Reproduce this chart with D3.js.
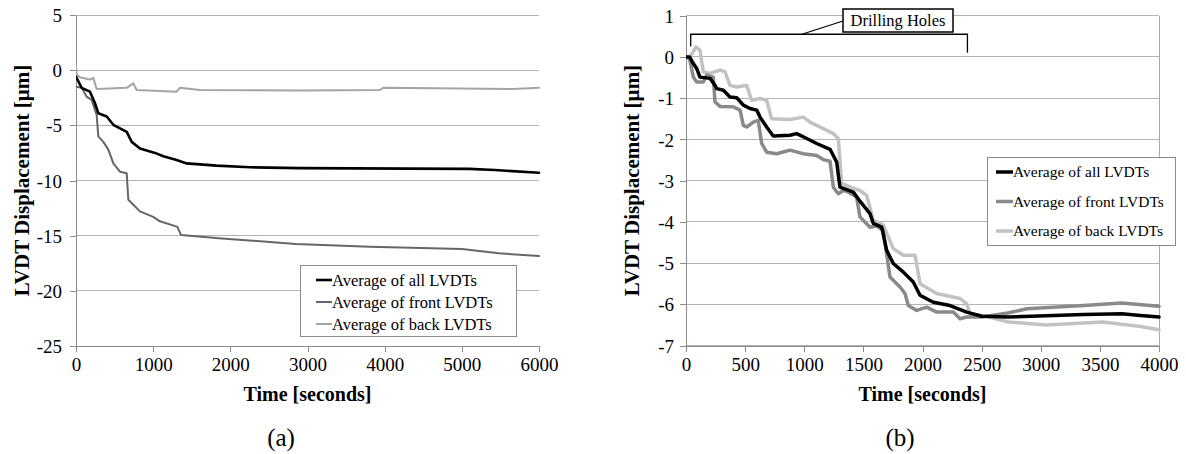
<!DOCTYPE html>
<html>
<head>
<meta charset="utf-8">
<script src="https://cdn.jsdelivr.net/npm/d3@7"></script>
<style>
  html, body { margin: 0; padding: 0; background: #fff; }
  svg { display: block; }
  svg text { font-family: "Liberation Serif", "Times New Roman", Times, "DejaVu Serif", serif !important; fill: #000; }
</style>
</head>
<body>
<svg id="chart" width="1186" height="454"></svg>
<script>
// ---------------- DATA ----------------
// Chart (a): time [s] and LVDT displacement [µm]
const timeA_all   = [0, 74, 181, 246, 289, 398, 484, 657, 722, 829, 1024, 1131, 1304, 1434, 1823, 2255, 2903, 3600, 4300, 5100, 5425, 6000];
const valueA_all  = [-0.6, -1.6, -1.95, -3.0, -3.9, -4.2, -4.95, -5.6, -6.5, -7.1, -7.5, -7.8, -8.15, -8.45, -8.65, -8.8, -8.88, -8.9, -8.92, -8.95, -9.05, -9.3];
const timeA_front  = [0, 74, 138, 203, 268, 289, 354, 419, 484, 570, 657, 678, 743, 829, 1001, 1088, 1314, 1361, 1888, 2846, 3804, 5002, 5481, 6000];
const valueA_front = [-1.5, -1.6, -2.4, -2.7, -4.05, -6.0, -6.5, -7.2, -8.45, -9.2, -9.35, -11.75, -12.2, -12.8, -13.3, -13.7, -14.2, -14.95, -15.25, -15.75, -16.0, -16.2, -16.6, -16.85];
const timeA_back  = [0, 10, 48, 181, 224, 268, 657, 743, 786, 1304, 1347, 1607, 2903, 3939, 3982, 5667, 6000];
const valueA_back = [0.35, -0.4, -0.65, -0.85, -0.7, -1.7, -1.6, -1.2, -1.8, -1.95, -1.6, -1.8, -1.85, -1.8, -1.6, -1.7, -1.6];

// Chart (b)
const timeB_all  = [0, 30, 62, 90, 118, 203, 245, 260, 316, 372, 429, 485, 541, 598, 626, 682, 738, 879, 936, 1021, 1105, 1218, 1274, 1302, 1330, 1415, 1471, 1556, 1584, 1655, 1697, 1753, 1838, 1922, 1979, 2091, 2233, 2374, 2500, 2722, 3043, 3364, 3685, 3845, 4000];
const valueB_all = [0, 0, -0.16, -0.28, -0.49, -0.52, -0.69, -0.77, -0.81, -0.97, -0.99, -1.17, -1.25, -1.29, -1.46, -1.70, -1.92, -1.90, -1.86, -1.98, -2.10, -2.24, -2.55, -3.16, -3.19, -3.28, -3.5, -3.8, -4.04, -4.13, -4.69, -5.01, -5.22, -5.46, -5.78, -5.95, -6.03, -6.19, -6.29, -6.31, -6.28, -6.25, -6.23, -6.27, -6.31];
const timeB_front  = [0, 30, 62, 90, 146, 175, 231, 245, 288, 400, 457, 485, 513, 569, 611, 640, 682, 767, 879, 992, 1105, 1161, 1218, 1246, 1288, 1330, 1358, 1443, 1471, 1556, 1612, 1668, 1725, 1810, 1852, 1880, 1951, 2035, 2120, 2261, 2317, 2374, 2500, 2722, 2883, 3364, 3685, 4000];
const valueB_front = [0, -0.04, -0.49, -0.61, -0.61, -0.44, -0.49, -1.09, -1.20, -1.21, -1.29, -1.66, -1.70, -1.58, -1.54, -2.10, -2.31, -2.35, -2.26, -2.35, -2.39, -2.49, -2.53, -3.16, -3.32, -3.24, -3.26, -3.40, -3.88, -4.13, -4.10, -4.21, -5.34, -5.58, -5.74, -6.03, -6.15, -6.07, -6.19, -6.19, -6.35, -6.31, -6.31, -6.21, -6.11, -6.03, -5.97, -6.05];
const timeB_back  = [0, 34, 85, 118, 146, 203, 288, 330, 372, 429, 513, 555, 626, 682, 724, 879, 992, 1049, 1161, 1246, 1288, 1316, 1415, 1471, 1528, 1584, 1668, 1753, 1838, 1937, 1979, 2120, 2317, 2374, 2402, 2543, 2722, 3043, 3524, 3845, 4000];
const valueB_back = [0, 0, 0.24, 0.16, -0.36, -0.40, -0.32, -0.36, -0.69, -0.73, -0.69, -1.05, -1.01, -1.05, -1.50, -1.52, -1.46, -1.58, -1.74, -1.86, -1.98, -3.07, -3.19, -3.24, -3.36, -3.96, -4.08, -4.65, -4.81, -4.81, -5.50, -5.74, -5.86, -5.99, -6.23, -6.29, -6.43, -6.50, -6.43, -6.54, -6.62];

const seriesNames = ["Average of all LVDTs", "Average of front LVDTs", "Average of back LVDTs"];
const xTicksA = [0, 1000, 2000, 3000, 4000, 5000, 6000];
const yTicksA = [5, 0, -5, -10, -15, -20, -25];
const xTicksB = [0, 500, 1000, 1500, 2000, 2500, 3000, 3500, 4000];
const yTicksB = [1, 0, -1, -2, -3, -4, -5, -6, -7];
const drillRange = [40, 2380];
const drillLabel = "Drilling Holes";
const xTitle = "Time [seconds]";
const yTitle = "LVDT Displacement [µm]";

// ---------------- DRAW ----------------
const FONT = '"Liberation Serif", "Times New Roman", Times, "DejaVu Serif", serif';
const svg = d3.select("#chart");
const zip = (t, v) => t.map((d, i) => ({t: d, v: v[i]}));

function drawPanel(cfg) {
  const x = d3.scaleLinear().domain(cfg.xDomain).range([cfg.left, cfg.right]);
  const y = d3.scaleLinear().domain(cfg.yDomain).range([cfg.bottom, cfg.top]);
  const g = svg.append("g").attr("font-family", FONT);

  g.append("g").selectAll("line").data(cfg.yTicks).join("line")
    .attr("x1", cfg.left).attr("x2", cfg.right)
    .attr("y1", d => y(d)).attr("y2", d => y(d))
    .attr("stroke", "#b3b3b3").attr("stroke-width", 1).attr("shape-rendering", "crispEdges");

  if (cfg.rightBorder) {
    g.append("line").attr("x1", cfg.right).attr("x2", cfg.right)
      .attr("y1", cfg.top).attr("y2", cfg.bottom)
      .attr("stroke", "#a8a8a8").attr("shape-rendering", "crispEdges");
  }

  const xAxis = g.append("g").attr("transform", `translate(0,${cfg.bottom})`)
    .call(d3.axisBottom(x).tickValues(cfg.xTicks).tickSize(6).tickSizeOuter(0).tickFormat(d3.format("d")));
  const yAxis = g.append("g").attr("transform", `translate(${cfg.left},0)`)
    .call(d3.axisLeft(y).tickValues(cfg.yTicks).tickSize(6).tickSizeOuter(0).tickFormat(d3.format("d")));
  [xAxis, yAxis].forEach(a => {
    a.attr("font-family", FONT).attr("font-size", cfg.tickFont);
    a.select(".domain").attr("stroke", "#8c8c8c").attr("shape-rendering", "crispEdges");
    a.selectAll(".tick line").attr("stroke", "#8c8c8c").attr("shape-rendering", "crispEdges");
    a.selectAll(".tick text").style("font-family", FONT).attr("font-size", cfg.tickFont).attr("fill", "#000");
  });
  xAxis.selectAll(".tick text").attr("y", 12).attr("dy", "0.71em");
  yAxis.selectAll(".tick text").attr("x", -cfg.yLabelGap).attr("dy", "0.35em")
    .text(d => d < 0 ? "-" + Math.abs(d) : d);

  const line = d3.line().x(d => x(d.t)).y(d => y(d.v)).curve(d3.curveLinear);
  const clipId = "clip" + cfg.id;
  svg.append("clipPath").attr("id", clipId).append("rect")
    .attr("x", cfg.left).attr("y", cfg.top - 10).attr("width", cfg.right - cfg.left + 2).attr("height", cfg.bottom - cfg.top + 10);
  const lg = g.append("g").attr("clip-path", `url(#${clipId})`);
  [2, 1, 0].forEach(i => {
    const s = cfg.series[i];
    lg.append("path").datum(s.data).attr("d", line)
      .attr("fill", "none").attr("stroke", s.color).attr("stroke-width", s.width)
      .attr("stroke-linejoin", "round").attr("stroke-linecap", "round");
  });

  g.append("text").attr("x", (cfg.left + cfg.right) / 2).attr("y", cfg.xTitleY)
    .attr("text-anchor", "middle").attr("font-weight", "bold").attr("font-size", cfg.titleFont)
    .text(xTitle);
  g.append("text").attr("transform", `translate(${cfg.yTitleX},${(cfg.top + cfg.bottom) / 2}) rotate(-90)`)
    .attr("text-anchor", "middle").attr("dy", "0.35em").attr("font-weight", "bold").attr("font-size", cfg.yTitleFont)
    .text(yTitle);
  g.append("text").attr("x", cfg.panelX).attr("y", 446)
    .attr("text-anchor", "middle").attr("font-size", 25).text(cfg.panelLabel);

  const L = cfg.legend;
  const lgd = g.append("g");
  lgd.append("rect").attr("x", L.x).attr("y", L.y).attr("width", L.w).attr("height", L.h)
    .attr("fill", "#fff").attr("stroke", "#8c8c8c").attr("stroke-width", 1).attr("shape-rendering", "crispEdges");
  cfg.series.forEach((s, i) => {
    const cy = L.y + L.first + i * L.step;
    lgd.append("line").attr("x1", L.x + L.lx1).attr("x2", L.x + L.lx2).attr("y1", cy).attr("y2", cy)
      .attr("stroke", s.color).attr("stroke-width", s.width);
    lgd.append("text").attr("x", L.x + L.lx2).attr("y", cy).attr("dy", "0.35em")
      .attr("font-size", L.font).text(seriesNames[i]);
  });
  return {x, y, g};
}

drawPanel({
  id: "A", left: 76, right: 539, top: 15, bottom: 346,
  xDomain: [0, 6000], yDomain: [-25, 5], xTicks: xTicksA, yTicks: yTicksA,
  tickFont: 19, titleFont: 20, yTitleFont: 21, yLabelGap: 14,
  xTitleY: 401, yTitleX: 22, panelX: 281, panelLabel: "(a)", rightBorder: false,
  series: [
    {data: zip(timeA_all, valueA_all), color: "#000", width: 2.6},
    {data: zip(timeA_front, valueA_front), color: "#666", width: 2},
    {data: zip(timeA_back, valueA_back), color: "#a4a4a4", width: 2}
  ],
  legend: {x: 300, y: 265, w: 216, h: 71, first: 15, step: 22, lx1: 16, lx2: 32, font: 16.5}
});

const pB = drawPanel({
  id: "B", left: 686, right: 1159, top: 15.7, bottom: 345.5,
  xDomain: [0, 4000], yDomain: [-7, 1], xTicks: xTicksB, yTicks: yTicksB,
  tickFont: 19, titleFont: 20, yTitleFont: 21, yLabelGap: 12,
  xTitleY: 401, yTitleX: 632, panelX: 900, panelLabel: "(b)", rightBorder: true,
  series: [
    {data: zip(timeB_all, valueB_all), color: "#000", width: 3.5},
    {data: zip(timeB_front, valueB_front), color: "#8a8a8a", width: 3.5},
    {data: zip(timeB_back, valueB_back), color: "#c2c2c2", width: 3.5}
  ],
  legend: {x: 987, y: 157, w: 188, h: 88, first: 15, step: 29.5, lx1: 9, lx2: 26, font: 15.5}
});

{
  const x = pB.x, y = pB.y, g = pB.g;
  const xl = x(drillRange[0]), xr = x(drillRange[1]);
  const yb = y(0.55);
  const c = g.append("g").attr("stroke", "#000").attr("stroke-width", 1.3).attr("fill", "none");
  c.append("path").attr("d", `M${xl},${y(0.25)}V${yb}H${xr}V${y(0.1)}`);
  const bx = 843, by = 9, bw = 110, bh = 23;
  c.append("line").attr("x1", bx).attr("y1", by + 12).attr("x2", x(980)).attr("y2", yb);
  g.append("rect").attr("x", bx).attr("y", by).attr("width", bw).attr("height", bh)
    .attr("fill", "#fff").attr("stroke", "#000").attr("stroke-width", 1.5);
  g.append("text").attr("x", bx + bw / 2).attr("y", by + bh / 2).attr("dy", "0.35em")
    .attr("text-anchor", "middle").attr("font-size", 16.5).text(drillLabel);
}
</script>
</body>
</html>
